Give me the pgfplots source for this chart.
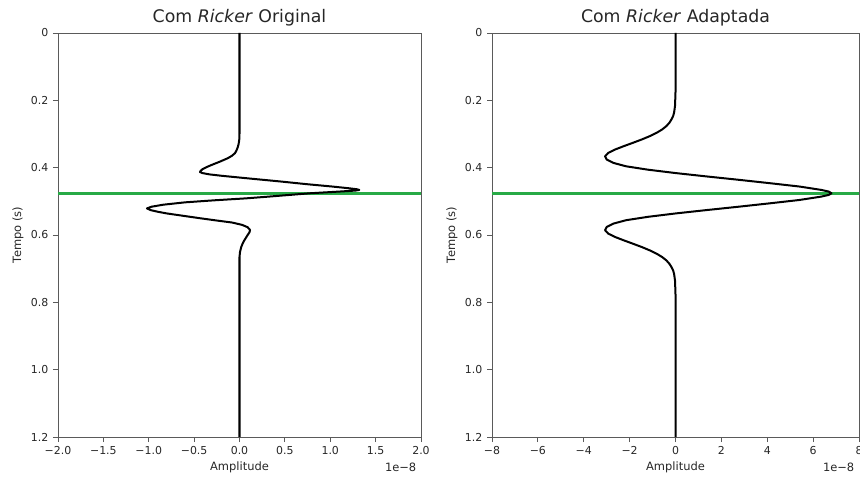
\documentclass[border=0pt]{standalone}
\usepackage{pgfplots}
\pgfplotsset{compat=1.18}
\usepackage{pgfplotstable}
\usepackage{fontspec}
\setmainfont{DejaVu Sans}
\usetikzlibrary{calc}
\definecolor{gl}{RGB}{40,170,70}
\definecolor{sp}{RGB}{90,90,90}

\pgfplotstableread{
t amp
0.000 0
0.300 0
0.318 -0.003
0.330 -0.01
0.340 -0.02
0.350 -0.035
0.357 -0.05
0.365 -0.085
0.372 -0.13
0.382 -0.215
0.390 -0.29
0.398 -0.36
0.405 -0.41
0.410 -0.43
0.413 -0.435
0.416 -0.41
0.420 -0.33
0.424 -0.20
0.428 -0.05
0.433 0.14
0.441 0.45
0.449 0.74
0.456 1.02
0.461 1.20
0.464 1.29
0.466 1.32
0.468 1.28
0.471 1.10
0.476 0.78
0.481 0.55
0.486 0.32
0.491 0.08
0.497 -0.28
0.503 -0.60
0.510 -0.84
0.516 -0.97
0.521 -1.02
0.526 -0.98
0.531 -0.90
0.536 -0.80
0.543 -0.62
0.550 -0.44
0.557 -0.25
0.563 -0.08
0.570 0.03
0.577 0.09
0.585 0.116
0.592 0.11
0.600 0.09
0.615 0.055
0.625 0.035
0.635 0.02
0.650 0.006
0.665 0
1.200 0
}\orig

\pgfplotstableread{
t amp
0.000 0
0.150 0
0.176 0
0.216 -0.02
0.236 -0.06
0.246 -0.10
0.256 -0.17
0.266 -0.26
0.276 -0.39
0.286 -0.57
0.296 -0.81
0.306 -1.11
0.316 -1.46
0.326 -1.85
0.336 -2.25
0.346 -2.63
0.356 -2.93
0.366 -3.07
0.376 -3.00
0.386 -2.70
0.396 -2.15
0.406 -1.20
0.416 0.00
0.426 1.35
0.436 2.75
0.446 4.10
0.456 5.40
0.466 6.35
0.471 6.68
0.476 6.80
0.481 6.68
0.486 6.35
0.496 5.40
0.506 4.10
0.516 2.75
0.526 1.35
0.536 0.00
0.546 -1.20
0.556 -2.15
0.566 -2.70
0.576 -3.00
0.586 -3.07
0.596 -2.93
0.606 -2.63
0.616 -2.25
0.626 -1.85
0.636 -1.46
0.646 -1.11
0.656 -0.81
0.666 -0.57
0.676 -0.39
0.686 -0.26
0.696 -0.17
0.706 -0.10
0.716 -0.06
0.736 -0.02
0.776 0
1.200 0
}\adapt

\pgfplotsset{
  mystyle/.style={
    scale only axis,
    height=303pt,
    y dir=reverse, ymin=0, ymax=1.2,
    ytick={0,0.2,0.4,0.6,0.8,1.0,1.2},
    yticklabels={0,0.2,0.4,0.6,0.8,1.0,1.2},
    tick align=outside, tick pos=left,
    axis line style={sp, line width=0.6pt},
    major tick length=3.75pt,
    every tick/.style={sp, line width=0.6pt},
    tick label style={font=\fontsize{8.2}{9}\selectfont, text=black!85},
    clip=true,
  }
}

\newcommand{\lbl}{\fontsize{8.6}{10}\selectfont}
\newcommand{\ttl}{\fontsize{13}{15}\selectfont}

\begin{document}
\begin{tikzpicture}
\begin{axis}[mystyle, at={(0,0)}, anchor=south west, width=272.25pt,
  xmin=-2, xmax=2,
  xtick={-2,-1.5,-1,-0.5,0,0.5,1,1.5,2},
  xticklabels={−2.0,−1.5,−1.0,−0.5,0.0,0.5,1.0,1.5,2.0}]
  \addplot[gl, line width=2pt] coordinates {(-2,0.476) (2,0.476)};
  \addplot[black, line width=1.5pt, line join=round] table[x=amp, y=t] {\orig};
\end{axis}
\node[anchor=base, font=\ttl, text=black!85] at (136.125pt,310.5pt) {Com \textit{Ricker} Original};
\node[anchor=center, font=\lbl, text=black!85] at (136.125pt,-22.5pt) {Amplitude};
\node[anchor=east, font=\lbl, text=black!85] at (272.25pt,-22.5pt) {1e−8};
\node[anchor=center, rotate=90, font=\lbl, text=black!85] at (-30pt,151.5pt) {Tempo (s)};

\begin{axis}[mystyle, at={(325.5pt,0)}, anchor=south west, width=275.25pt,
  xmin=-8, xmax=8,
  xtick={-8,-6,-4,-2,0,2,4,6,8},
  xticklabels={−8,−6,−4,−2,0,2,4,6,8}]
  \addplot[gl, line width=2pt] coordinates {(-8,0.476) (8,0.476)};
  \addplot[black, line width=1.5pt, line join=round] table[x=amp, y=t] {\adapt};
\end{axis}
\node[anchor=base, font=\ttl, text=black!85] at (463.125pt,310.5pt) {Com \textit{Ricker} Adaptada};
\node[anchor=center, font=\lbl, text=black!85] at (463.125pt,-22.5pt) {Amplitude};
\node[anchor=east, font=\lbl, text=black!85] at (600.75pt,-22.5pt) {1e−8};
\node[anchor=center, rotate=90, font=\lbl, text=black!85] at (295.5pt,151.5pt) {Tempo (s)};

\pgfresetboundingbox
\path[use as bounding box] (-43.5pt,-30pt) rectangle (601.5pt,327.75pt);
\end{tikzpicture}
\end{document}
